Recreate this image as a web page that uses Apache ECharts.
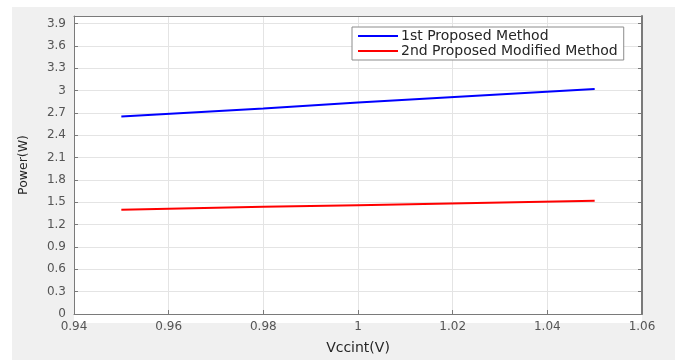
<!DOCTYPE html>
<html>
<head>
<meta charset="utf-8">
<script src="https://cdn.jsdelivr.net/npm/echarts@6/dist/echarts.min.js"></script>
<style>
  html, body { margin: 0; padding: 0; background: #ffffff; }
  #chart { width: 675px; height: 360px; }
</style>
</head>
<body>
<div id="chart"></div>
<script>
const vccint = [0.95, 0.98, 1.0, 1.05]
const firstMethod = [2.65, 2.76, 2.84, 3.02]
const secondMethod = [1.40, 1.44, 1.46, 1.52]
const seriesNames = ['1st Proposed Method', '2nd Proposed Modified Method']

const pairs = (ys) => vccint.map((x, i) => [x, ys[i]])

const axisGray = '#7a7a7a'
const labelGray = '#555555'
const gridGray = '#e4e4e4'
const font = 'DejaVu Sans, Verdana, sans-serif'

const chart = echarts.init(document.getElementById('chart'), null, { renderer: 'canvas' })

chart.setOption({
  animation: false,
  backgroundColor: '#ffffff',
  graphic: [
    // MATLAB figure background
    { type: 'rect', z: -10, silent: true, shape: { x: 12, y: 7, width: 663, height: 353 }, style: { fill: '#f0f0f0' } },
    { type: 'rect', z: -9, silent: true, shape: { x: 74, y: 16, width: 568, height: 307 }, style: { fill: '#ffffff' } }
  ],
  grid: { left: 74, top: 16, width: 568, height: 307, show: false },
  legend: {
    orient: 'vertical',
    left: 352,
    top: 27,
    padding: [2, 6, 2, 6],
    itemGap: 1,
    itemWidth: 40,
    itemHeight: 2,
    icon: 'rect',
    backgroundColor: '#ffffff',
    borderColor: '#8c8c8c',
    borderWidth: 1,
    textStyle: { fontFamily: font, fontSize: 14, lineHeight: 14, color: '#262626', padding: [0, 0, 0, -2] },
    data: seriesNames
  },
  xAxis: [
    {
      type: 'value',
      min: 0.94,
      max: 1.06,
      interval: 0.02,
      name: 'Vccint(V)',
      nameLocation: 'middle',
      nameGap: 27,
      nameTextStyle: { fontFamily: font, fontSize: 14, color: '#262626' },
      axisLine: { show: true, onZero: false, lineStyle: { color: axisGray, width: 1 } },
      axisTick: { show: true, inside: true, length: 4, lineStyle: { color: axisGray } },
      axisLabel: { fontFamily: font, fontSize: 12, color: labelGray, margin: 7 },
      splitLine: { show: true, lineStyle: { color: gridGray } }
    },
    {
      type: 'value',
      position: 'top',
      min: 0.94,
      max: 1.06,
      interval: 0.02,
      axisLine: { show: true, onZero: false, lineStyle: { color: axisGray, width: 1 } },
      axisTick: { show: false },
      axisLabel: { show: false },
      splitLine: { show: false }
    }
  ],
  yAxis: [
    {
      type: 'value',
      min: 0,
      max: 4,
      interval: 0.3,
      name: 'Power(W)',
      nameLocation: 'middle',
      nameGap: 44,
      nameTextStyle: { fontFamily: font, fontSize: 12.5, color: '#262626' },
      axisLine: { show: true, onZero: false, lineStyle: { color: axisGray, width: 1 } },
      axisTick: { show: true, inside: true, length: 4, lineStyle: { color: axisGray } },
      axisLabel: { fontFamily: font, fontSize: 12, color: labelGray, margin: 8, showMaxLabel: false },
      splitLine: { show: true, lineStyle: { color: gridGray } }
    },
    {
      type: 'value',
      position: 'right',
      min: 0,
      max: 4,
      interval: 0.3,
      axisLine: { show: true, onZero: false, lineStyle: { color: axisGray, width: 2 } },
      axisTick: { show: true, inside: true, length: 4, lineStyle: { color: axisGray } },
      axisLabel: { show: false },
      splitLine: { show: false }
    }
  ],
  series: [
    {
      name: seriesNames[0],
      type: 'line',
      symbol: 'none',
      lineStyle: { color: '#0000ff', width: 2 },
      itemStyle: { color: '#0000ff' },
      data: pairs(firstMethod)
    },
    {
      name: seriesNames[1],
      type: 'line',
      symbol: 'none',
      lineStyle: { color: '#ff0000', width: 2 },
      itemStyle: { color: '#ff0000' },
      data: pairs(secondMethod)
    }
  ]
})
</script>
</body>
</html>
